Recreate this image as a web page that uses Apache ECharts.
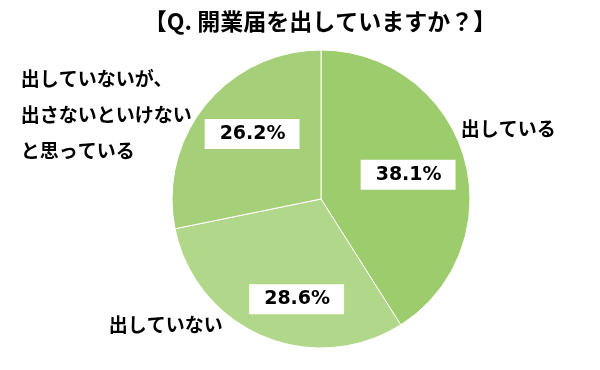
<!DOCTYPE html>
<html><head><meta charset="utf-8">
<script src="https://cdn.jsdelivr.net/npm/echarts@6/dist/echarts.min.js"></script>
<style>html,body{margin:0;padding:0;background:#fff}#c{width:600px;height:370px}</style>
</head><body><div id="c"></div>
<script>
const titleText = '【Q. 開業届を出していますか？】';
const categories = ['出している', '出していない', '出していないが、\n出さないといけない\nと思っている'];
const values = [38.1, 28.6, 26.2];
const colors = ['#9ccc6b', '#b1d78b', '#a5d079'];

const chart = echarts.init(document.getElementById('c'));
const data = categories.map((n, i) => ({ name: n, value: values[i], itemStyle: { color: colors[i] } }));
const outerShift = [[-18, -26, null], [-31, -21, null], [-172, 16, 'left']];
const innerShift = [[-7, 3], [14, 10], [7, -3]];
chart.setOption({
  animation: false,
  title: {
    text: titleText, left: 315, top: 5, textAlign: 'center',
    textStyle: { fontFamily: 'Noto Sans CJK JP', fontWeight: 'bold', fontSize: 23, color: '#000' }
  },
  series: [
    {
      type: 'pie', center: [321, 199], radius: 149, startAngle: 90, clockwise: true,
      avoidLabelOverlap: false,
      itemStyle: { borderColor: '#fff', borderWidth: 1 },
      label: {
        show: true, position: 'outside', formatter: '{b}', color: '#000',
        fontFamily: 'Noto Sans CJK JP', fontWeight: 'bold', fontSize: 19, lineHeight: 36
      },
      labelLine: { show: false, length: 10, length2: 0 },
      labelLayout: p => {
        const s = outerShift[p.dataIndex];
        const o = { dx: s[0], dy: s[1] };
        if (s[2]) o.align = s[2];
        return o;
      },
      data: data
    },
    {
      type: 'pie', center: [321, 199], radius: [41, 149], startAngle: 90, clockwise: true,
      silent: true, avoidLabelOverlap: false,
      itemStyle: { color: 'rgba(0,0,0,0)' },
      label: {
        show: true, position: 'inside', formatter: p => p.value.toFixed(1) + '%', color: '#000',
        fontFamily: 'DejaVu Sans', fontWeight: 'bold', fontSize: 19,
        backgroundColor: '#fff', padding: [6, 14, 5, 15]
      },
      labelLine: { show: false },
      labelLayout: p => ({ dx: innerShift[p.dataIndex][0], dy: innerShift[p.dataIndex][1] }),
      data: values.map((v, i) => ({ name: categories[i], value: v }))
    }
  ]
});
</script></body></html>
